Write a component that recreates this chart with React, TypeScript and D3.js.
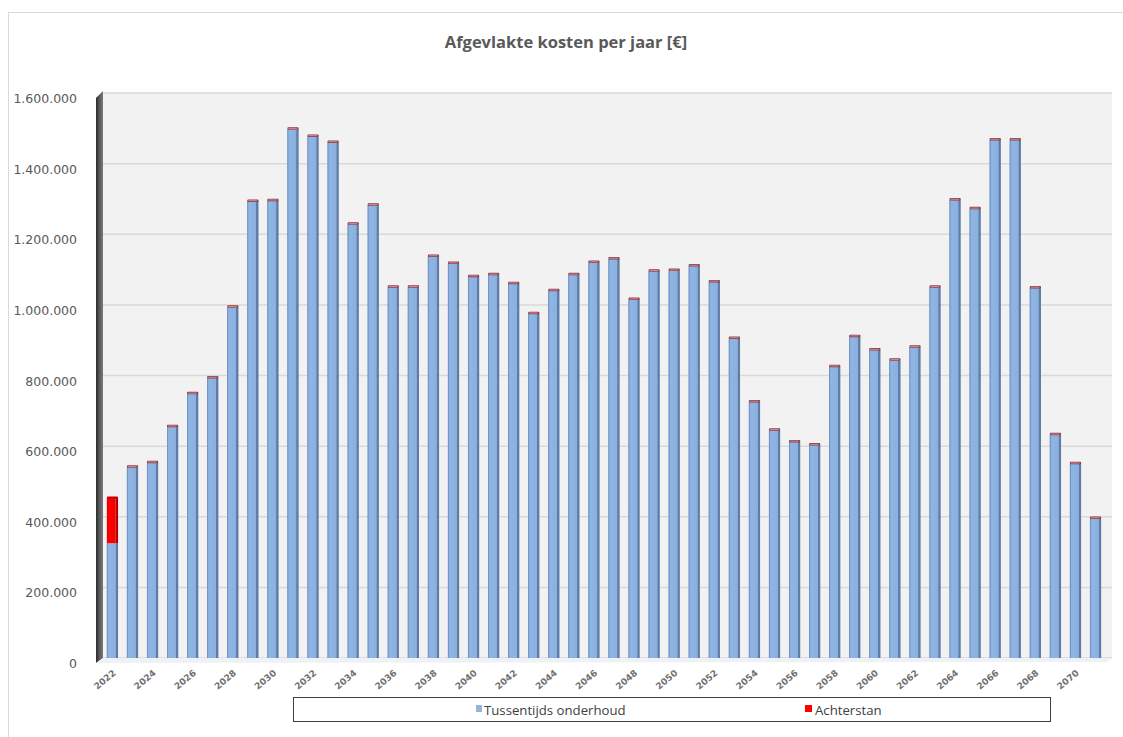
import React from "react";
import * as d3 from "d3";

const years: number[] = [
  2022, 2023, 2024, 2025, 2026, 2027, 2028, 2029, 2030, 2031,
  2032, 2033, 2034, 2035, 2036, 2037, 2038, 2039, 2040, 2041,
  2042, 2043, 2044, 2045, 2046, 2047, 2048, 2049, 2050, 2051,
  2052, 2053, 2054, 2055, 2056, 2057, 2058, 2059, 2060, 2061,
  2062, 2063, 2064, 2065, 2066, 2067, 2068, 2069, 2070, 2071,
];

const tussentijds: number[] = [
  325000, 540000, 553000, 655000, 748000, 793000, 993000, 1293000, 1295000, 1497000,
  1477000, 1460000, 1228000, 1282000, 1050000, 1050000, 1137000, 1117000, 1080000, 1085000,
  1060000, 975000, 1040000, 1085000, 1120000, 1130000, 1015000, 1095000, 1097000, 1110000,
  1065000, 905000, 725000, 645000, 612000, 603000, 825000, 910000, 872000, 843000,
  880000, 1050000, 1297000, 1272000, 1467000, 1467000, 1048000, 632000, 550000, 395000,
];

const achterstan: number[] = [
  128000, 0, 0, 0, 0, 0, 0, 0, 0, 0,
  0, 0, 0, 0, 0, 0, 0, 0, 0, 0,
  0, 0, 0, 0, 0, 0, 0, 0, 0, 0,
  0, 0, 0, 0, 0, 0, 0, 0, 0, 0,
  0, 0, 0, 0, 0, 0, 0, 0, 0, 0,
];

const yTicks: number[] = [0, 200000, 400000, 600000, 800000, 1000000, 1200000, 1400000, 1600000];
const xLabelYears: number[] = years.filter((y) => y % 2 === 0 && y <= 2070);

const title = "Afgevlakte kosten per jaar [€]";
const seriesNames = ["Tussentijds onderhoud", "Achterstan"];

const fmt = (v: number) =>
  v === 0 ? "0" : String(v).replace(/\B(?=(\d{3})+(?!\d))/g, ".");

export default function App() {
  const W = 1123;
  const H = 737;
  const plotLeft = 103;
  const plotRight = 1112;
  const plotTop = 93;
  const plotBottom = 658;

  const x = d3.scaleBand<number>().domain(years).range([98, 1110]).padding(0.44);
  const y = d3.scaleLinear().domain([0, 1600000]).range([plotBottom, plotTop]);

  const bw = x.bandwidth();
  const side = 2.5;

  return (
    <svg
      width={W}
      height={H}
      style={{ position: "absolute", left: 0, top: 0, background: "#fff" }}
      fontFamily="DejaVu Sans"
    >
      <defs>
        <linearGradient id="wall" x1="0" x2="1" y1="0" y2="0">
          <stop offset="0" stopColor="#2a2a2a" />
          <stop offset="0.5" stopColor="#5a5a5a" />
          <stop offset="1" stopColor="#7a7a7a" />
        </linearGradient>
        <linearGradient id="front" x1="0" x2="1" y1="0" y2="0">
          <stop offset="0" stopColor="#7fa6d8" />
          <stop offset="0.25" stopColor="#8fb5e4" />
          <stop offset="1" stopColor="#8ab0df" />
        </linearGradient>
        <linearGradient id="redfront" x1="0" x2="1" y1="0" y2="0">
          <stop offset="0" stopColor="#e00000" />
          <stop offset="0.3" stopColor="#ff0000" />
          <stop offset="1" stopColor="#f40000" />
        </linearGradient>
      </defs>

      {/* chart area border */}
      <rect x={8.5} y={12.5} width={1300} height={900} fill="none" stroke="#d9d9d9" strokeWidth={1} />

      {/* title */}
      <text
        x={566}
        y={48}
        textAnchor="middle"
        fontFamily="Open Sans"
        fontWeight={700}
        fontSize={16.5}
        fill="#595959"
      >
        {title}
      </text>

      {/* plot background */}
      <rect x={plotLeft} y={plotTop} width={plotRight - plotLeft} height={plotBottom - plotTop} fill="#f2f2f2" />

      {/* gridlines */}
      {yTicks.map((t) => (
        <g key={"g" + t}>
          <line x1={plotLeft} x2={plotRight} y1={y(t)} y2={y(t)} stroke="#d9d9d9" strokeWidth={1.5} />
          <line x1={96} x2={plotLeft} y1={y(t) + 5} y2={y(t)} stroke="#d9d9d9" strokeWidth={1} />
        </g>
      ))}

      {/* left wall */}
      <polygon
        points={`96,${plotTop + 5} ${plotLeft},${plotTop - 2} ${plotLeft},${plotBottom} 96,${plotBottom + 5}`}
        fill="url(#wall)"
      />
      {/* floor */}
      <polygon
        points={`96,${plotBottom + 5} ${plotLeft},${plotBottom} ${plotRight},${plotBottom} ${plotRight - 5},${plotBottom + 4}`}
        fill="#eef1f6"
      />

      {/* y labels */}
      {yTicks.map((t) => (
        <text
          key={"yl" + t}
          x={77}
          y={y(t) + 10}
          textAnchor="end"
          fontSize={12.5}
          fill="#595959"
        >
          {fmt(t)}
        </text>
      ))}

      {/* bars */}
      {years.map((yr, i) => {
        const x0 = x(yr)!;
        const vb = tussentijds[i];
        const vr = achterstan[i];
        const yb = y(vb);
        const yr2 = y(vb + vr);
        const fw = bw - side;
        return (
          <g key={"b" + yr}>
            <rect x={x0} y={yb} width={fw} height={plotBottom - yb} fill="url(#front)" />
            <rect x={x0} y={yb} width={0.8} height={plotBottom - yb} fill="#6f8fbf" />
            <rect x={x0 + fw} y={yb} width={side} height={plotBottom - yb} fill="#5c7ca9" />
            {vr > 0 && (
              <g>
                <rect x={x0} y={yr2} width={fw} height={yb - yr2} fill="url(#redfront)" />
                <rect x={x0 + fw} y={yr2} width={side} height={yb - yr2} fill="#b00000" />
                <rect x={x0} y={yr2 - 1.5} width={bw} height={2} fill="#c00000" rx={1} />
              </g>
            )}
            {vr === 0 && (
              <g>
                <rect x={x0} y={yr2 - 2} width={bw} height={2.5} fill="#8a3a45" rx={1} />
                <rect x={x0 + 1} y={yr2 - 1.3} width={bw - 2.5} height={1.1} fill="#d08a90" />
              </g>
            )}
          </g>
        );
      })}

      {/* x labels */}
      {xLabelYears.map((yr) => {
        const cx = x(yr)! + bw / 2 + 4;
        return (
          <text
            key={"xl" + yr}
            transform={`translate(${cx},${674}) rotate(-40)`}
            textAnchor="end"
            fontSize={9}
            fontWeight={700}
            fill="#707070"
          >
            {yr}
          </text>
        );
      })}

      {/* legend */}
      <rect x={293.5} y={697.5} width={757} height={24} fill="#fff" stroke="#404040" strokeWidth={1} />
      <rect x={476} y={705} width={6} height={7} fill="#95b3d7" />
      <text x={484} y={714.5} fontFamily="Open Sans" fontSize={13.2} fill="#404040">
        {seriesNames[0]}
      </text>
      <rect x={805} y={705} width={7} height={7} fill="#ff0000" />
      <text x={815} y={714.5} fontFamily="Open Sans" fontSize={13.2} fill="#404040">
        {seriesNames[1]}
      </text>
    </svg>
  );
}
